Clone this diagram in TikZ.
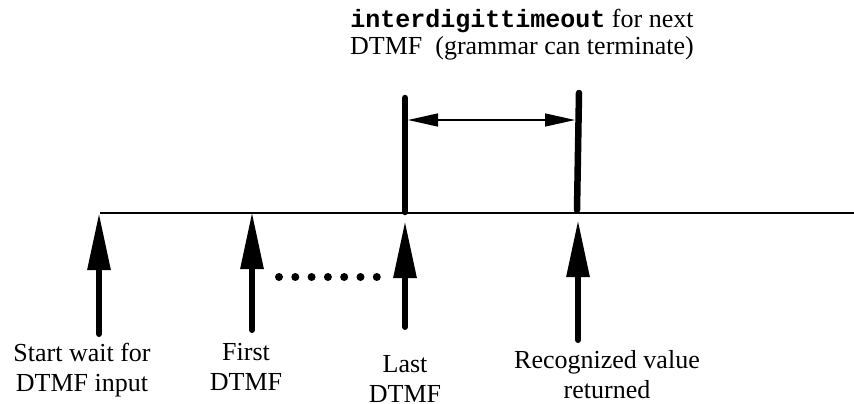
\documentclass[tikz,border=0pt]{standalone}
\usepackage{fontspec}
\setmainfont{Liberation Serif}
\newfontfamily\codefont{Liberation Mono}
\usetikzlibrary{arrows.meta}

\tikzset{
  label/.style={align=center, inner sep=0pt, anchor=north,
    font=\fontsize{26}{30}\selectfont},
  event/.style={line width=6pt, line cap=round,
    -{Triangle[width=22pt, length=57pt]}},
  bar/.style={line width=6.5pt, line cap=round},
  span/.style={line width=1.5pt,
    {Triangle[width=13pt, length=30pt]}-{Triangle[width=13pt, length=30pt]}},
  dot/.style={circle, fill=black, inner sep=0pt, minimum size=8pt}
}

\begin{document}
\begin{tikzpicture}[x=1pt, y=-1pt]
  \useasboundingbox (0,0) rectangle (854,404);

  % time axis
  \coordinate (axisL) at (100,213);
  \coordinate (axisR) at (854,213);
  \draw[line width=2pt] (axisL) -- (axisR);

  % event tips on the axis and the tails below
  \coordinate (tipStart) at (99,213);
  \coordinate (tailStart) at (99,334);
  \coordinate (tipFirst) at (252,212);
  \coordinate (tailFirst) at (252,330);
  \coordinate (tipLast) at (405,221);
  \coordinate (tailLast) at (405,327);
  \coordinate (tipRec) at (578,220);
  \coordinate (tailRec) at (578,340);

  \draw[event] (tailStart) -- (tipStart);
  \draw[event] (tailFirst) -- (tipFirst);
  \draw[event] (tailLast) -- (tipLast);
  \draw[event] (tailRec) -- (tipRec);

  % dots between first and last DTMF
  \foreach \i in {0,...,6}
    \node[dot] (d\i) at ({279+16.3*\i},277) {};

  % interval markers
  \coordinate (barAtop) at (405,98);
  \coordinate (barAbot) at (405,212);
  \coordinate (barBtop) at (579,93);
  \coordinate (barBbot) at (577,210);
  \draw[bar] (barAtop) -- (barAbot);
  \draw[bar] (barBtop) -- (barBbot);

  \coordinate (spanL) at (408,120);
  \coordinate (spanR) at (575,120);
  \draw[span] (spanL) -- (spanR);

  % labels
  \node[label] (lStart) at (82,343) {Start wait for\\DTMF input};
  \node[label] (lFirst) at (246,343) {First\\DTMF};
  \node[label] (lLast) at (405,355) {Last\\DTMF};
  \node[label] (lRec) at (607,350) {Recognized value\\returned};
  \node[label, font=\fontsize{26}{27}\selectfont] (lTop) at (522,9)
    {{\codefont\bfseries\fontsize{25}{27}\selectfont interdigittimeout} for next\\DTMF\ \ (grammar can terminate)};
\end{tikzpicture}
\end{document}
